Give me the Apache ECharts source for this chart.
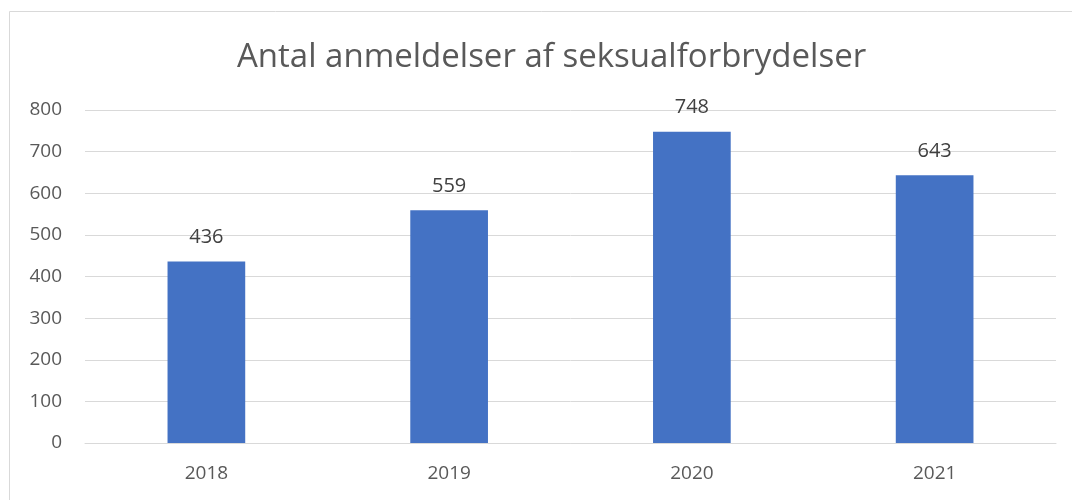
<!DOCTYPE html>
<html>
<head>
<meta charset="utf-8">
<script src="https://cdn.jsdelivr.net/npm/echarts@6/dist/echarts.min.js"></script>
<style>
    html, body { margin: 0; padding: 0; background: #fff; }
    #chart { width: 1072px; height: 500px; }
</style>
</head>
<body>
<div id="chart"></div>
<script>
// Data
var years = ['2018', '2019', '2020', '2021'];
var reports = [436, 559, 748, 643];

var chart = echarts.init(document.getElementById('chart'));

chart.setOption({
    color: ['#4472C4'],
    animation: false,
    textStyle: {
        fontFamily: '"Open Sans", "Noto Sans", sans-serif'
    },

    // Outer chart border
    graphic: [{
        type: 'rect',
        shape: { x: 9.5, y: 11.5, width: 1200, height: 600 },
        style: { fill: 'none', stroke: '#d9d9d9', lineWidth: 1 },
        silent: true
    }],

    title: {
        text: 'Antal anmeldelser af seksualforbrydelser',
        left: 232,
        top: 36,
        textStyle: {
            fontSize: 33,
            fontWeight: 'normal',
            color: '#595959'
        }
    },

    grid: {
        left: 85,
        right: 16,
        top: 110,
        bottom: 57
    },

    xAxis: {
        type: 'category',
        data: years,
        axisLine: { lineStyle: { color: '#d9d9d9', width: 1 } },
        axisTick: { show: false },
        axisLabel: {
            color: '#595959',
            fontSize: 19,
            margin: 21
        }
    },

    yAxis: {
        type: 'value',
        min: 0,
        max: 800,
        interval: 100,
        axisLine: { show: false },
        axisTick: { show: false },
        axisLabel: {
            color: '#595959',
            fontSize: 19,
            margin: 23
        },
        splitLine: { lineStyle: { color: '#d9d9d9', width: 1 } }
    },

    series: [{
        type: 'bar',
        data: reports,
        barWidth: '32%',
        label: {
            show: true,
            position: 'top',
            distance: 14,
            color: '#404040',
            fontSize: 20
        }
    }]
});
</script>
</body>
</html>
